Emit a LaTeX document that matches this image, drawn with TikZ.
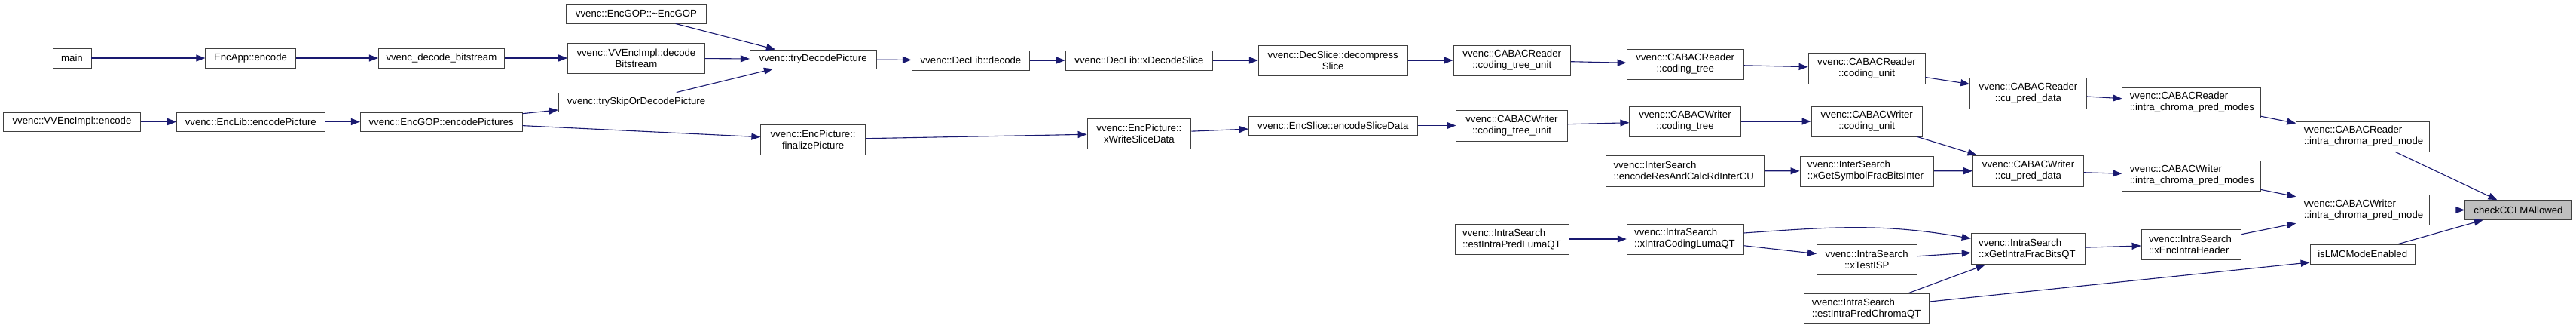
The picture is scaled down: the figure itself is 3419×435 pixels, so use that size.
\documentclass[tikz,border=0pt]{standalone}
\usepackage{fontspec}
\setmainfont{Liberation Sans}
\usetikzlibrary{arrows.meta}
\hyphenpenalty=10000
\exhyphenpenalty=10000
\definecolor{edgec}{HTML}{191970}
\definecolor{boxc}{HTML}{404040}
\definecolor{hil}{HTML}{BFBFBF}
\begin{document}
\begin{tikzpicture}[x=1pt,y=-1pt,
  base/.style={draw=boxc, line width=0.9pt, fill=white, font=\fontsize{13.2}{15}\selectfont},
  cbox/.style={base, inner sep=0pt, align=center},
  lbox/.style={base, inner xsep=10pt, inner ysep=0pt, align=left},
  edge/.style={draw=edgec, line width=1.1pt, -{Triangle[length=12pt,width=9pt]}}
]
\useasboundingbox (0,0) rectangle (3419,435);
% column 1
\node[cbox, minimum width=51pt, minimum height=26pt] (main) at (95.5,77) {main};
\node[cbox, minimum width=182pt, minimum height=25pt] (vvencencode) at (95.5,161.5) {vvenc::VVEncImpl::encode};
% column 2
\node[cbox, minimum width=119.4pt, minimum height=26pt] (encapp) at (332.5,77) {EncApp::encode};
\node[cbox, minimum width=196.3pt, minimum height=25pt] (enclib) at (332.8,161.5) {vvenc::EncLib::encodePicture};
% column 3
\node[cbox, minimum width=167pt, minimum height=26pt] (decbs) at (585.9,77) {vvenc\_decode\_bitstream};
\node[cbox, minimum width=214.7pt, minimum height=25pt] (encpics) at (585.7,161.5) {vvenc::EncGOP::encodePictures};
% column 4
\node[cbox, minimum width=185.2pt, minimum height=26pt] (gopdtor) at (844.5,18) {vvenc::EncGOP::\textasciitilde EncGOP};
\node[cbox, minimum width=181.7pt, minimum height=40pt] (decbsimpl) at (844.4,77) {vvenc::VVEncImpl::decode\\Bitstream};
\node[cbox, minimum width=206.6pt, minimum height=25pt] (tryskip) at (844.5,135.5) {vvenc::trySkipOrDecodePicture};
% column 5
\node[cbox, minimum width=167.7pt, minimum height=25pt] (trydec) at (1079.2,78.5) {vvenc::tryDecodePicture};
\node[cbox, minimum width=138.6pt, minimum height=40pt] (finalize) at (1079.1,185) {vvenc::EncPicture::\\finalizePicture};
% column 6
\node[cbox, minimum width=156.5pt, minimum height=26pt] (declib) at (1288.5,80) {vvenc::DecLib::decode};
% column 7
\node[cbox, minimum width=195.2pt, minimum height=26pt] (xdecslice) at (1511.9,80) {vvenc::DecLib::xDecodeSlice};
\node[cbox, minimum width=137.8pt, minimum height=40pt] (xwsd) at (1511.9,177) {vvenc::EncPicture::\\xWriteSliceData};
% column 8
\node[cbox, minimum width=197.8pt, minimum height=40pt] (decomp) at (1769.2,80) {vvenc::DecSlice::decompress\\Slice};
\node[cbox, minimum width=223.8pt, minimum height=25pt] (esd) at (1769.2,166.5) {vvenc::EncSlice::encodeSliceData};
% column 9
\node[cbox, minimum width=155.3pt, minimum height=40pt] (crctu) at (2006.7,80) {vvenc::CABACReader\\::coding\_tree\_unit};
\node[cbox, minimum width=147.3pt, minimum height=41pt] (cwctu) at (2006.5,166.5) {vvenc::CABACWriter\\::coding\_tree\_unit};
\node[lbox, text width=130.8pt, minimum height=40pt] (estluma) at (2006.6,317) {vvenc::IntraSearch\\::estIntraPredLumaQT};
% column 10
\node[cbox, minimum width=155.3pt, minimum height=40pt] (crct) at (2236.7,85) {vvenc::CABACReader\\::coding\_tree};
\node[cbox, minimum width=147.3pt, minimum height=40pt] (cwct) at (2236.5,161) {vvenc::CABACWriter\\::coding\_tree};
\node[lbox, text width=190pt, minimum height=41pt] (encres) at (2236.5,226.5) {vvenc::InterSearch\\::encodeResAndCalcRdInterCU};
\node[lbox, text width=135pt, minimum height=40pt] (xicl) at (2236.7,317) {vvenc::IntraSearch\\::xIntraCodingLumaQT};
% column 11
\node[cbox, minimum width=155pt, minimum height=41pt] (crcu) at (2477.5,90.5) {vvenc::CABACReader\\::coding\_unit};
\node[cbox, minimum width=147.3pt, minimum height=40pt] (cwcu) at (2477.7,161) {vvenc::CABACWriter\\::coding\_unit};
\node[lbox, text width=157.7pt, minimum height=40pt] (xgsym) at (2477.8,227) {vvenc::InterSearch\\::xGetSymbolFracBitsInter};
\node[cbox, minimum width=132.6pt, minimum height=40pt] (xtisp) at (2477.7,344) {vvenc::IntraSearch\\::xTestISP};
\node[lbox, text width=145.8pt, minimum height=40pt] (estchroma) at (2477.7,409) {vvenc::IntraSearch\\::estIntraPredChromaQT};
% column 12
\node[cbox, minimum width=154.6pt, minimum height=41pt] (crcupd) at (2692,123.5) {vvenc::CABACReader\\::cu\_pred\_data};
\node[cbox, minimum width=147pt, minimum height=41pt] (cwcupd) at (2692,226.5) {vvenc::CABACWriter\\::cu\_pred\_data};
\node[lbox, text width=130.8pt, minimum height=41pt] (xgif) at (2691.6,330.4) {vvenc::IntraSearch\\::xGetIntraFracBitsQT};
% column 13
\node[lbox, text width=163.3pt, minimum height=40pt] (cricpms) at (2908.4,136) {vvenc::CABACReader\\::intra\_chroma\_pred\_modes};
\node[lbox, text width=163.3pt, minimum height=40pt] (cwicpms) at (2908.4,233) {vvenc::CABACWriter\\::intra\_chroma\_pred\_modes};
\node[lbox, text width=112.8pt, minimum height=40pt] (xeih) at (2908.4,324) {vvenc::IntraSearch\\::xEncIntraHeader};
% column 14
\node[lbox, text width=156.3pt, minimum height=40pt] (cricpm) at (3135.9,181) {vvenc::CABACReader\\::intra\_chroma\_pred\_mode};
\node[lbox, text width=156.3pt, minimum height=40pt] (cwicpm) at (3135.9,278.5) {vvenc::CABACWriter\\::intra\_chroma\_pred\_mode};
\node[cbox, minimum width=139.3pt, minimum height=26pt] (islmc) at (3135.7,337) {isLMCModeEnabled};
% column 15
\node[cbox, fill=hil, minimum width=141.6pt, minimum height=25.6pt] (check) at (3342.5,278.5) {checkCCLMAllowed};

% edges
\draw[edge] (main) -- (encapp);
\draw[edge] (encapp) -- (decbs);
\draw[edge] (decbs) -- (decbsimpl);
\draw[edge] (vvencencode) -- (enclib);
\draw[edge] (enclib) -- (encpics);
\draw[edge] (encpics) -- (tryskip);
\draw[edge] (encpics) -- (finalize);
\draw[edge] (gopdtor) -- (trydec);
\draw[edge] (decbsimpl) -- (trydec);
\draw[edge] (tryskip) -- (trydec);
\draw[edge] (trydec) -- (declib);
\draw[edge] (declib) -- (xdecslice);
\draw[edge] (xdecslice) -- (decomp);
\draw[edge] (decomp) -- (crctu);
\draw[edge] (crctu) -- (crct);
\draw[edge] (crct) -- (crcu);
\draw[edge] (crcu) -- (crcupd);
\draw[edge] (crcupd) -- (cricpms);
\draw[edge] (cricpms) -- (cricpm);
\draw[edge] (cricpm) -- (check);
\draw[edge] (finalize) -- (xwsd);
\draw[edge] (xwsd) -- (esd);
\draw[edge] (esd) -- (cwctu);
\draw[edge] (cwctu) -- (cwct);
\draw[edge] (cwct) -- (cwcu);
\draw[edge] (cwcu) -- (cwcupd);
\draw[edge] (encres) -- (xgsym);
\draw[edge] (xgsym) -- (cwcupd);
\draw[edge] (cwcupd) -- (cwicpms);
\draw[edge] (cwicpms) -- (cwicpm);
\draw[edge] (cwicpm) -- (check);
\draw[edge] (xeih) -- (cwicpm);
\draw[edge] (islmc) -- (check);
\draw[edge] (estluma) -- (xicl);
\draw[edge] ([yshift=8pt]xicl.east) to[out=4, in=170] ([yshift=14pt]xgif.west);
\draw[edge] (xicl) -- (xtisp);
\draw[edge] (xtisp) -- (xgif);
\draw[edge] (estchroma) -- (xgif);
\draw[edge] ([yshift=9pt]estchroma.east) -- ([yshift=-11pt]islmc.west);
\draw[edge] (xgif) -- (xeih);
\end{tikzpicture}
\end{document}
